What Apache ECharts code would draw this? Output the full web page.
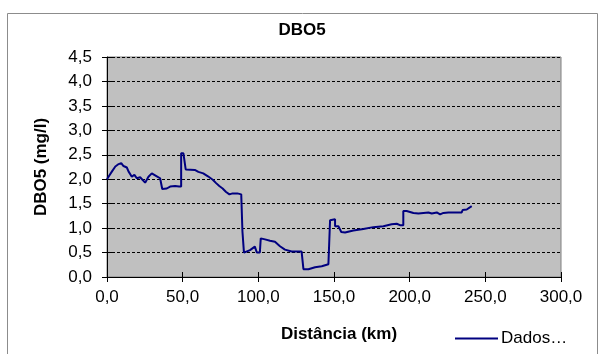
<!DOCTYPE html>
<html>
<head>
<meta charset="utf-8">
<script src="https://cdn.jsdelivr.net/npm/echarts@6/dist/echarts.min.js"></script>
<style>
  html, body { margin: 0; padding: 0; background: #fff; }
  #chart { width: 604px; height: 354px; }
</style>
</head>
<body>
<div id="chart"></div>
<script>
// Distance along the river (km) and measured DBO5 (mg/l)
var distanciaKm = [
  0, 1, 3.3, 5.5, 7.7, 9.4, 10.9, 13.1, 14.2, 15.3, 16.4, 18.1, 19.7, 21.9, 25.2, 27.4, 29.6, 32.9, 35.1, 36.2,
  36.5, 39.5, 41.7, 45, 47.6, 49, 49, 50.5, 51.5, 52, 58, 60.4, 63.6, 66.7, 69.9, 72.1, 74.2, 76.4, 78.7, 80.9,
  83, 86.1, 88.7, 89.5, 89.5, 90.5, 90.5, 91.2, 94.5, 97.7, 98.8, 99, 101, 101.6, 104.4, 107.7, 111, 114.3, 117.6, 122,
  128.6, 129.7, 129.8, 133.1, 137.5, 141.9, 146.3, 147.4, 147.4, 148.5, 150.7, 150.7, 152.9, 154.8, 157.3, 162.8, 169.4, 176, 182.6, 188.1,
  191.4, 193.6, 195.8, 195.8, 198, 202.5, 205.8, 209.1, 212.4, 214.6, 217.9, 220.1, 222.3, 225.6, 230, 234.4, 235, 237.7, 238.8, 241
];
var dbo5 = [
  2.0, 2.05, 2.16, 2.26, 2.31, 2.33, 2.27, 2.24, 2.16, 2.2, 2.05, 2.09, 2.02, 2.04, 1.93, 2.05, 2.12, 2.06, 2.02, 2.04,
  1.80, 1.81, 1.85, 1.86, 1.85, 1.85, 2.53, 2.53, 2.53, 2.2, 2.19, 2.15, 2.12, 2.06, 1.99, 1.92, 1.86, 1.81, 1.74, 1.69,
  1.71, 1.71, 1.69, 1.69, 0.93, 0.93, 0.50, 0.50, 0.55, 0.62, 0.63, 0.50, 0.50, 0.79, 0.77, 0.74, 0.72, 0.63, 0.56, 0.52,
  0.52, 0.52, 0.16, 0.16, 0.20, 0.22, 0.26, 0.27, 1.16, 1.18, 1.18, 1.04, 1.04, 0.92, 0.91, 0.95, 0.98, 1.02, 1.04, 1.08,
  1.09, 1.06, 1.06, 1.35, 1.35, 1.31, 1.30, 1.31, 1.32, 1.30, 1.32, 1.28, 1.31, 1.32, 1.32, 1.32, 1.37, 1.38, 1.42, 1.45
];
var xRange = [0, 300, 50];   // min, max, step
var yRange = [0, 4.5, 0.5];
var seriesName = 'Dados\u2026';

var points = distanciaKm.map(function (x, i) { return [x, dbo5[i]]; });
var fmt = function (v) { return v.toFixed(1).replace('.', ','); };
var font = 'Liberation Sans, Arial, sans-serif';
var fs = 17;

// secondary axes only carry the inner half of the crossing tick marks
function innerTicks(base) {
  return Object.assign({
    type: 'value', axisLine: { show: false }, axisLabel: { show: false },
    splitLine: { show: false }, axisTick: { show: true, inside: true, length: 5, lineStyle: { color: '#000' } }
  }, base);
}

var chart = echarts.init(document.getElementById('chart'), null, { renderer: 'canvas' });
chart.setOption({
  animation: false,
  backgroundColor: '#fff',
  textStyle: { fontFamily: font },
  title: {
    text: 'DBO5', left: 'center', top: 17,
    textStyle: { fontFamily: font, fontSize: fs, fontWeight: 'bold', color: '#000' }
  },
  graphic: [{
    type: 'rect', shape: { x: 7.5, y: 13.5, width: 590, height: 350 },
    style: { fill: 'none', stroke: '#8c8c8c', lineWidth: 1 }, silent: true, z: -1
  }],
  legend: {
    left: 450, top: 325, itemWidth: 43, itemHeight: 10, itemGap: 4,
    icon: 'path://M0,4L43,4L43,6L0,6Z',
    textStyle: { fontFamily: font, fontSize: fs, color: '#000', padding: [0, 0, 0, -2] },
    data: [seriesName]
  },
  grid: {
    left: 107, top: 57, width: 454, height: 220, show: true,
    backgroundColor: '#c0c0c0', borderColor: '#808080', borderWidth: 1
  },
  xAxis: [{
    type: 'value', min: xRange[0], max: xRange[1], interval: xRange[2],
    name: 'Distância (km)', nameLocation: 'middle', nameGap: 49,
    nameTextStyle: { fontFamily: font, fontSize: fs, fontWeight: 'bold', color: '#000', padding: [0, 0, 0, 10] },
    axisLine: { show: true, lineStyle: { color: '#000', width: 1 } },
    axisTick: { show: true, length: 5, lineStyle: { color: '#000' } },
    axisLabel: { formatter: fmt, fontFamily: font, fontSize: fs, color: '#000', margin: 12 },
    splitLine: { show: false }
  }, innerTicks({ min: xRange[0], max: xRange[1], interval: xRange[2], position: 'bottom' })],
  yAxis: [{
    type: 'value', min: yRange[0], max: yRange[1], interval: yRange[2],
    name: 'DBO5 (mg/l)', nameLocation: 'middle', nameGap: 57, nameRotate: 90,
    nameTextStyle: { fontFamily: font, fontSize: fs, fontWeight: 'bold', color: '#000' },
    axisLine: { show: true, lineStyle: { color: '#000', width: 1 } },
    axisTick: { show: true, length: 5, lineStyle: { color: '#000' } },
    axisLabel: { formatter: fmt, fontFamily: font, fontSize: fs, color: '#000', margin: 15 },
    splitLine: { show: true, lineStyle: { color: '#000', width: 1, type: [3, 2] } }
  }, innerTicks({ min: yRange[0], max: yRange[1], interval: yRange[2], position: 'left' })],
  series: [{
    name: seriesName, type: 'line', data: points, symbol: 'none',
    lineStyle: { color: '#000080', width: 2 }, itemStyle: { color: '#000080' }
  }]
});
</script>
</body>
</html>
